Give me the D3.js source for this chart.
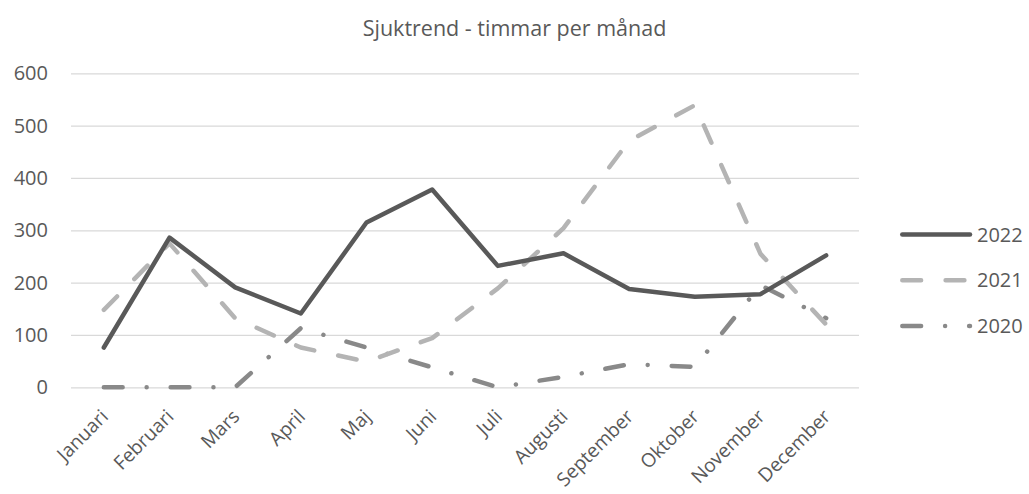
<!DOCTYPE html>
<html>
<head>
<meta charset="utf-8">
<script src="https://cdn.jsdelivr.net/npm/d3@7/dist/d3.min.js"></script>
<style>
  html, body { margin: 0; padding: 0; background: #fff; }
  svg { display: block; font-family: "Open Sans", sans-serif; }
</style>
</head>
<body>
<svg id="chart" width="1029" height="494"></svg>
<script>
const title = "Sjuktrend - timmar per månad";
const months = ["Januari","Februari","Mars","April","Maj","Juni","Juli","Augusti","September","Oktober","November","December"];
const yTicks = [0, 100, 200, 300, 400, 500, 600];
const seriesNames = ["2022", "2021", "2020"];
const values2022 = [76, 286, 191, 141, 315, 378, 232, 256, 188, 173, 178, 252];
const values2021 = [148, 275, 132, 76, 49, 94, 189, 304, 471, 539, 255, 120];
const values2020 = [0, 0, 0, 113, 76, 38, 0, 20, 44, 39, 195, 132];

const styles = {
  "2022": { color: "#595959", dash: null },
  "2021": { color: "#b4b4b4", dash: "18.8 24.5" },
  "2020": { color: "#898989", dash: "18.8 24 0.01 24" }
};
const seriesData = { "2022": values2022, "2021": values2021, "2020": values2020 };

const svg = d3.select("#chart");
const x = d3.scalePoint().domain(months).range([71, 859]).padding(0.5);
const y = d3.scaleLinear().domain([0, 600]).range([387.3, 73.3]);

// title
svg.append("text").attr("x", 514.5).attr("y", 36).attr("text-anchor", "middle")
  .attr("font-size", 21.5).attr("fill", "#595959").text(title);

// gridlines
const yAxis = d3.axisLeft(y).tickValues(yTicks).tickSize(-(859 - 71)).tickPadding(23);
const gy = svg.append("g").attr("transform", "translate(71,0)").call(yAxis);
gy.select(".domain").remove();
gy.selectAll(".tick line").attr("stroke", "#d9d9d9").attr("stroke-width", 1.3);
gy.selectAll(".tick text").attr("fill", "#595959").attr("font-size", 20)
  .attr("font-family", "Open Sans, sans-serif");

// x axis labels
const xAxis = d3.axisBottom(x).tickSize(0).tickPadding(0);
const gx = svg.append("g").attr("transform", "translate(0,387.3)").call(xAxis);
gx.select(".domain").remove();
gx.selectAll(".tick text")
  .attr("fill", "#595959").attr("font-size", 19.2)
  .attr("font-family", "Open Sans, sans-serif")
  .attr("text-anchor", "end")
  .attr("dy", null)
  .attr("transform", "translate(5,30.5) rotate(-45)");

// lines
const line = d3.line().x((d, i) => x(months[i])).y(d => y(d));
["2020", "2021", "2022"].forEach(name => {
  const st = styles[name];
  const p = svg.append("path").datum(seriesData[name])
    .attr("d", line).attr("fill", "none")
    .attr("stroke", st.color).attr("stroke-width", 4.5)
    .attr("stroke-linecap", "round").attr("stroke-linejoin", "round");
  if (st.dash) p.attr("stroke-dasharray", st.dash);
});

// legend
const legY = d3.scalePoint().domain(seriesNames).range([234.5, 326]);
seriesNames.forEach(name => {
  const st = styles[name];
  const ly = legY(name);
  const l = svg.append("line").attr("x1", 902.3).attr("x2", 970).attr("y1", ly).attr("y2", ly)
    .attr("stroke", st.color).attr("stroke-width", 4.5).attr("stroke-linecap", "round");
  if (st.dash) l.attr("stroke-dasharray", st.dash);
  svg.append("text").attr("x", 977).attr("y", ly).attr("dy", "0.35em")
    .attr("font-size", 20).attr("fill", "#595959").text(name);
});
</script>
</body>
</html>
